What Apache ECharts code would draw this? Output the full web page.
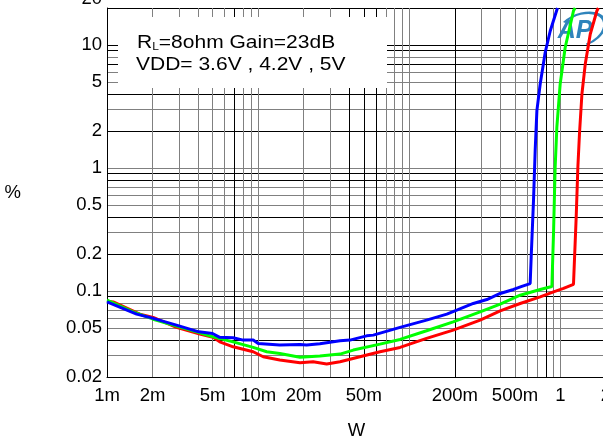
<!DOCTYPE html>
<html>
<head>
<meta charset="utf-8">
<script src="https://cdn.jsdelivr.net/npm/echarts@6/dist/echarts.min.js"></script>
<style>
  html, body { margin: 0; padding: 0; background: #fff; }
  #chart { width: 603px; height: 441px; }
</style>
</head>
<body>
<div id="chart"></div>
<script>
// THD+N (%) vs output power (W), three supply voltages
const vdd36 = [
    [0.001, 0.0816], [0.00157, 0.0649], [0.00197, 0.0605], [0.00288, 0.0528],
    [0.00405, 0.0466], [0.00499, 0.0452], [0.00557, 0.042], [0.00683, 0.0417],
    [0.00796, 0.0399], [0.00927, 0.0399], [0.0100, 0.0375], [0.0139, 0.0364],
    [0.0189, 0.0368], [0.0209, 0.0364], [0.0256, 0.0372], [0.0348, 0.0395],
    [0.0405, 0.0399], [0.0522, 0.0432], [0.0578, 0.0438], [0.0868, 0.0506],
    [0.130, 0.058], [0.177, 0.0649], [0.206, 0.0699], [0.265, 0.0792],
    [0.326, 0.0853], [0.399, 0.0955], [0.489, 0.103], [0.555, 0.109],
    [0.630, 0.115], [0.640, 0.189], [0.663, 0.546], [0.680, 1.39],
    [0.698, 2.93], [0.734, 4.82], [0.792, 8.69], [0.855, 13.0], [0.955, 20]
];
const vdd42 = [
    [0.001, 0.0842], [0.00149, 0.0677], [0.00202, 0.059], [0.00288, 0.0518],
    [0.00411, 0.0457], [0.00503, 0.0424], [0.00683, 0.0386], [0.00927, 0.0348],
    [0.0114, 0.0321], [0.0139, 0.0311], [0.0189, 0.0289], [0.0256, 0.0296],
    [0.0348, 0.0307], [0.0426, 0.0331], [0.064, 0.037], [0.0868, 0.0404],
    [0.130, 0.0475], [0.195, 0.0562], [0.294, 0.0677], [0.399, 0.0782],
    [0.541, 0.0925], [0.734, 0.103], [0.877, 0.109], [0.899, 0.293],
    [0.922, 1.02], [0.946, 2.14], [0.995, 4.82], [1.074, 9.55], [1.219, 18.96],
    [1.25, 20]
];
const vdd50 = [
    [0.001, 0.0826], [0.0011, 0.0816], [0.00165, 0.0649], [0.00202, 0.061],
    [0.00288, 0.0506], [0.00411, 0.0446], [0.00503, 0.042], [0.00557, 0.0386],
    [0.00683, 0.0352], [0.00927, 0.0321], [0.0108, 0.0292], [0.0139, 0.0275],
    [0.0189, 0.0261], [0.0231, 0.0266], [0.0284, 0.0255], [0.0348, 0.0266],
    [0.0471, 0.0292], [0.064, 0.0321], [0.0868, 0.0348], [0.130, 0.0412],
    [0.195, 0.0481], [0.294, 0.058], [0.399, 0.069], [0.541, 0.0792],
    [0.734, 0.0896], [0.899, 0.0984], [1.047, 0.105], [1.219, 0.1135],
    [1.27, 0.399], [1.303, 1.02], [1.335, 1.89], [1.386, 4.0], [1.458, 7.0],
    [1.574, 12.3], [1.742, 19], [1.78, 20]
];

// grid lines and tick labels
const xGridValues = [
    0.001, 0.002, 0.003, 0.004, 0.005, 0.006, 0.007, 0.008, 0.009,
    0.01, 0.02, 0.03, 0.04, 0.05, 0.06, 0.07, 0.08, 0.09,
    0.1, 0.2, 0.3, 0.4, 0.5, 0.6, 0.7, 0.8, 0.9,
    1, 2
];
const yGridValues = [
    0.02, 0.03, 0.04, 0.05, 0.06, 0.07, 0.08, 0.09,
    0.1, 0.2, 0.3, 0.4, 0.5, 0.6, 0.7, 0.8, 0.9,
    1, 2, 3, 4, 5, 6, 7, 8, 9,
    10, 20
];
const xLabelValues = [0.001, 0.002, 0.005, 0.01, 0.02, 0.05, 0.2, 0.5, 1, 2];
const yLabelValues = [0.02, 0.05, 0.1, 0.2, 0.5, 1, 2, 5, 10, 20];

const FONT = 'Liberation Sans, Arial, sans-serif';
const K = '#000';      // dark grid line
const G = '#808080';   // grey grid line
// the plotter mixes dark and grey grid lines, one colour per line
const xLineColors = [K, G, G, G, G, G, K, G, G, G, G, G, K, K, K, G, G, G,
                     G, K, G, G, G, G, G, K, G, G, K];
const yLineColors = [K, G, K, G, G, G, G, K, G, K, G, K, G, G, G, K, K,
                     G, K, G, K, G, G, K, G, K, K, K];

const chart = echarts.init(document.getElementById('chart'));

function fmtW(v) {
    if (v < 1) return Math.round(v * 1000) + 'm';
    return String(Math.round(v));
}

function fmtPct(v) {
    const s = String(+v.toPrecision(2));
    // top label sits half outside the picture in the original
    return v >= 20 ? '{top|' + s + '}' : s;
}

const option = {
    animation: false,
    grid: { left: 107, right: -3, top: 8, bottom: 64, outerBoundsMode: 'none' },
    xAxis: {
        type: 'log',
        logBase: 10,
        min: 0.001,
        max: 2,
        name: 'W',
        nameLocation: 'middle',
        nameGap: 44,
        nameTextStyle: { fontFamily: FONT, fontSize: 18.5, color: '#000' },
        axisLine: { show: true, lineStyle: { color: '#000', width: 1 } },
        axisTick: { show: false, customValues: xGridValues },
        splitLine: { show: true, lineStyle: { color: xLineColors, width: 1 } },
        axisLabel: {
            customValues: xLabelValues,
            formatter: fmtW,
            fontFamily: FONT, fontSize: 18.5, color: '#000', margin: 9
        }
    },
    yAxis: {
        type: 'log',
        logBase: 10,
        min: 0.02,
        max: 20,
        name: '%',
        nameLocation: 'middle',
        nameRotate: 0,
        nameGap: 86,
        nameTextStyle: { fontFamily: FONT, fontSize: 18.5, color: '#000' },
        axisLine: { show: true, lineStyle: { color: '#000', width: 1 } },
        axisTick: { show: false, customValues: yGridValues },
        splitLine: { show: true, lineStyle: { color: yLineColors, width: 1 } },
        axisLabel: {
            customValues: yLabelValues,
            formatter: fmtPct,
            fontFamily: FONT, fontSize: 18.5, color: '#000', margin: 5,
            rich: {
                top: { fontFamily: FONT, fontSize: 18.5, color: '#000', padding: [0, 0, 19, 0] }
            }
        }
    },
    graphic: [
        // legend box covering the grid
        {
            type: 'rect', z: 10,
            shape: { x: 118, y: 17, width: 269, height: 71 },
            style: { fill: '#fff' }
        },
        {
            type: 'text', z: 11, x: 137, y: 42.7, scaleX: 1.2,
            style: {
                text: '{n|R}{s|L}{n|=8ohm Gain=23dB}',
                verticalAlign: 'middle',
                rich: {
                    n: { fontFamily: FONT, fontSize: 17.5, lineHeight: 20, fill: '#000' },
                    s: { fontFamily: FONT, fontSize: 10, lineHeight: 14, verticalAlign: 'bottom', fill: '#000' }
                }
            }
        },
        {
            type: 'text', z: 11, x: 136, y: 65, scaleX: 1.2,
            style: {
                text: 'VDD= 3.6V , 4.2V , 5V',
                font: '17.5px ' + FONT,
                fill: '#000',
                verticalAlign: 'middle'
            }
        },
        // AP logo
        {
            type: 'text', z: 1, x: 575, y: 31,
            style: {
                text: 'AP',
                font: 'italic bold 25px ' + FONT,
                fill: '#2f84bb',
                align: 'center',
                verticalAlign: 'middle'
            }
        },
        {
            type: 'group', z: 1, x: 581, y: 30, rotation: 0.4, scaleY: 0.62,
            children: [{
                type: 'arc', z: 1,
                shape: { cx: 0, cy: 0, r: 25, startAngle: -2.1, endAngle: 1.6 },
                style: { stroke: '#2f84bb', lineWidth: 3.5, fill: null }
            }]
        }
    ],
    series: [
        {
            name: '5V', type: 'line', data: vdd50, showSymbol: false,
            lineStyle: { color: '#ff0000', width: 3 }, itemStyle: { color: '#ff0000' }
        },
        {
            name: '4.2V', type: 'line', data: vdd42, showSymbol: false,
            lineStyle: { color: '#00ff00', width: 3 }, itemStyle: { color: '#00ff00' }
        },
        {
            name: '3.6V', type: 'line', data: vdd36, showSymbol: false,
            lineStyle: { color: '#0000ff', width: 3 }, itemStyle: { color: '#0000ff' }
        }
    ]
};
chart.setOption(option);
</script>
</body>
</html>
